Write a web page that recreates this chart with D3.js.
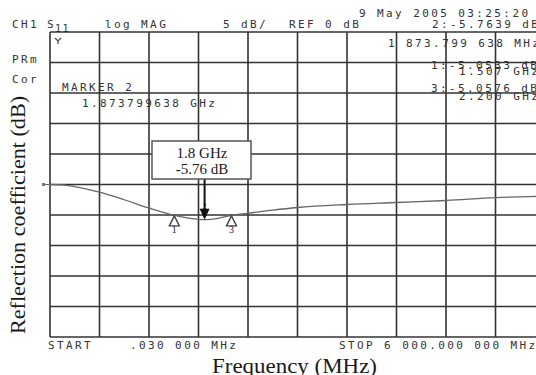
<!DOCTYPE html>
<html lang="en">
<head>
  <meta charset="UTF-8">
  <title>S11 log MAG</title>
  <script src="https://d3js.org/d3.v7.min.js"></script>
  <style>
    body { margin: 0; background: #fff; }
    .mono { font-family: "DejaVu Sans Mono", monospace; font-size: 11px; letter-spacing: 2.4px; fill: #333; }
    .serif { font-family: "Liberation Serif", "Times New Roman", serif; fill: #1a1a1a; }
    .grid line { stroke: #333; stroke-width: 1.6; }
  </style>
</head>
<body>

<svg id="chart" width="536" height="375"></svg>

<script>
  // trace (MHz, dB)
  var freqMHz = [0.03, 150, 300, 450, 600, 900, 1200, 1507, 1700, 1874, 2050, 2200, 2400, 2700, 3000, 3600, 4200, 4800, 5400, 6000];
  var s11dB   = [0, -0.05, -0.35, -0.75, -1.25, -2.5, -3.85, -5.05, -5.55, -5.76, -5.5, -5.06, -4.72, -4.2, -3.77, -3.28, -2.95, -2.62, -2.15, -1.9];

  // grid divisions: 600 MHz / div, 5 dB / div
  var xTicks = d3.range(0, 6001, 600);
  var yTicks = d3.range(-25, 26, 5);

  // markers
  var markerIds  = ['1', '3'];
  var markerFreq = [1507, 2200];
  var markerDb   = [-5.0533, -5.0576];
  var activeMarker = { freq: 1873.799638, db: -5.7639 };

  var svg = d3.select('#chart');

  var x = d3.scaleLinear().domain([0, 6000]).range([50, 545]);
  var y = d3.scaleLinear().domain([-25, 25]).range([337, 32]);

  // grid
  var grid = svg.append('g').attr('class', 'grid');
  grid.selectAll('line.v').data(xTicks).enter().append('line')
    .attr('class', 'v')
    .attr('x1', function (d) { return x(d); }).attr('x2', function (d) { return x(d); })
    .attr('y1', y(25)).attr('y2', y(-25));
  grid.selectAll('line.h').data(yTicks).enter().append('line')
    .attr('class', 'h')
    .attr('x1', x(0)).attr('x2', x(6000))
    .attr('y1', function (d) { return y(d); }).attr('y2', function (d) { return y(d); });

  // reference position marker on the left
  svg.append('line').attr('x1', x(0) - 7).attr('x2', x(0)).attr('y1', y(0)).attr('y2', y(0))
    .attr('stroke', '#666').attr('stroke-width', 1);
  svg.append('rect').attr('x', x(0) - 8).attr('y', y(0) - 1.5).attr('width', 3).attr('height', 3).attr('fill', '#777');

  // small glyph top-left of graticule
  svg.append('path').attr('d', 'M55,38 L58,41 L61,38 M58,41 L58,44')
    .attr('stroke', '#444').attr('stroke-width', 1.2).attr('fill', 'none');

  // trace
  var line = d3.line()
    .x(function (d, i) { return x(freqMHz[i]); })
    .y(function (d) { return y(d); })
    .curve(d3.curveMonotoneX);
  svg.append('path').datum(s11dB)
    .attr('d', line)
    .attr('fill', 'none')
    .attr('stroke', '#666')
    .attr('stroke-width', 1.3);

  // open triangle markers (1 and 3)
  markerIds.forEach(function (id, i) {
    var mx = x(markerFreq[i]), my = y(markerDb[i]);
    svg.append('path')
      .attr('d', 'M' + mx + ',' + (my + 0.5) + ' L' + (mx - 5) + ',' + (my + 10.5) + ' L' + (mx + 5) + ',' + (my + 10.5) + ' Z')
      .attr('fill', '#fff').attr('stroke', '#444').attr('stroke-width', 1.4);
    svg.append('text').attr('class', 'serif')
      .attr('x', mx).attr('y', my + 18)
      .attr('text-anchor', 'middle')
      .style('font-size', '10px')
      .text(id);
  });

  // active marker 2: filled down triangle with arrow from annotation box
  var ax = x(activeMarker.freq), ay = y(activeMarker.db);
  svg.append('line').attr('x1', ax).attr('x2', ax).attr('y1', 179).attr('y2', ay - 10)
    .attr('stroke', '#111').attr('stroke-width', 2);
  svg.append('path')
    .attr('d', 'M' + ax + ',' + ay + ' L' + (ax - 5) + ',' + (ay - 11) + ' L' + (ax + 5) + ',' + (ay - 11) + ' Z')
    .attr('fill', '#111');
  svg.append('text').attr('class', 'serif')
    .attr('x', ax).attr('y', ay - 11).attr('text-anchor', 'middle')
    .style('font-size', '8px').text('2');

  // annotation box
  svg.append('rect').attr('x', 152).attr('y', 141).attr('width', 99).attr('height', 38)
    .attr('fill', '#fff').attr('stroke', '#555').attr('stroke-width', 1.5);
  svg.append('text').attr('class', 'serif').attr('x', 202).attr('y', 158)
    .attr('text-anchor', 'middle').style('font-size', '15px').text('1.8 GHz');
  svg.append('text').attr('class', 'serif').attr('x', 202).attr('y', 174)
    .attr('text-anchor', 'middle').style('font-size', '15px').text('-5.76 dB');

  // analyzer annotations
  var labels = [
    { t: '9 May 2005  03:25:20', x: 359, y: 17 },
    { t: 'CH1', x: 12, y: 28 },
    { t: 'S', x: 47, y: 28 },
    { t: 'log MAG', x: 105, y: 28 },
    { t: '5 dB/', x: 223, y: 28 },
    { t: 'REF 0 dB', x: 289, y: 28 },
    { t: '2:-5.7639 dB', x: 432, y: 28 },
    { t: '1 873.799 638 MHz', x: 388, y: 47 },
    { t: 'PRm', x: 12, y: 63 },
    { t: 'Cor', x: 12, y: 83 },
    { t: 'MARKER 2', x: 62, y: 91 },
    { t: '1.873799638 GHz', x: 82, y: 107 },
    { t: '1:-5.0533 dB', x: 431, y: 69 },
    { t: '1.507 GHz', x: 459, y: 75 },
    { t: '3:-5.0576 dB', x: 431, y: 92 },
    { t: '2.200 GHz', x: 459, y: 100 },
    { t: 'START', x: 48, y: 349 },
    { t: '.030 000 MHz', x: 130, y: 349 },
    { t: 'STOP 6 000.000 000 MHz', x: 339, y: 349 }
  ];
  svg.selectAll('text.lab').data(labels).enter().append('text')
    .attr('class', 'mono lab')
    .attr('x', function (d) { return d.x; })
    .attr('y', function (d) { return d.y; })
    .text(function (d) { return d.t; });

  // S11 subscript
  svg.append('text').attr('class', 'mono')
    .attr('x', 55).attr('y', 32)
    .style('font-size', '10px').style('letter-spacing', '1.5px')
    .text('11');

  // axis titles
  svg.append('text').attr('class', 'serif')
    .attr('x', 212).attr('y', 373)
    .style('font-size', '21px')
    .attr('textLength', 165).attr('lengthAdjust', 'spacingAndGlyphs')
    .text('Frequency (MHz)');
  svg.append('text').attr('class', 'serif')
    .attr('transform', 'translate(25,215) rotate(-90)')
    .attr('text-anchor', 'middle')
    .style('font-size', '20px')
    .attr('textLength', 238).attr('lengthAdjust', 'spacingAndGlyphs')
    .text('Reflection coefficient (dB)');
</script>

</body>
</html>
